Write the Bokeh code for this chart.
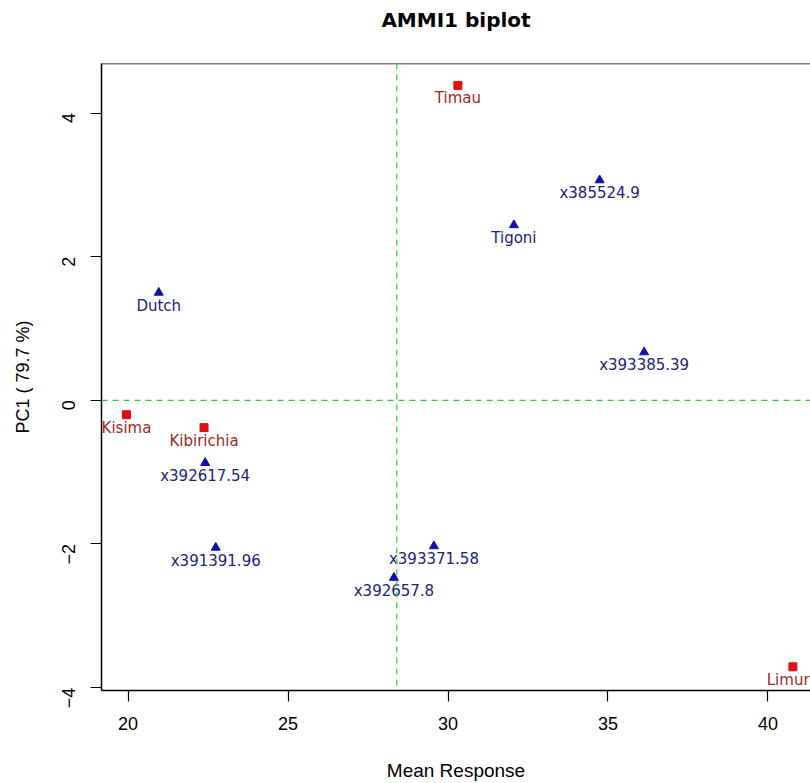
import math
from bokeh.plotting import figure
from bokeh.models import ColumnDataSource, FixedTicker, Span, Title
from bokeh.core.properties import value
from bokeh.embed import file_html
from bokeh.resources import INLINE

# Genotypes (blue triangles)
gen_names = ["Dutch", "Tigoni", "x385524.9", "x393385.39", "x392617.54",
             "x391391.96", "x393371.58", "x392657.8"]
gen_mean = [20.96, 32.06, 34.74, 36.13, 22.41, 22.74, 29.56, 28.31]
gen_pc1 = [1.50, 2.44, 3.065, 0.67, -0.87, -2.05, -2.03, -2.47]

# Environments (red squares)
env_names = ["Timau", "Kisima", "Kibirichia", "Limuru"]
env_mean = [30.31, 19.95, 22.375, 40.78]
env_pc1 = [4.385, -0.20, -0.38, -3.71]

grand_mean = 28.4
x_ticks = [20, 25, 30, 35, 40]
y_ticks = [-4, -2, 0, 2, 4]

FONT = "Liberation Sans"
LFONT = "DejaVu Sans"

p = figure(width=810, height=783, output_backend="svg", toolbar_location=None,
           x_range=(19.17, 41.33), y_range=(-4.04, 4.69),
           min_border_left=101, min_border_right=0, min_border_top=63,
           min_border_bottom=91)
# spacer between frame and title, then the title itself
p.add_layout(Title(text=" ", text_font_size="2px", standoff=23), "above")
p.add_layout(Title(text="AMMI1 biplot", align="center", text_font=LFONT,
                   text_font_size="20px", text_font_style="bold",
                   text_color="black", standoff=10, offset=3), "above")
p.grid.visible = False
p.outline_line_color = None
p.background_fill_color = "white"
p.border_fill_color = "white"

for ax in (p.xaxis[0], p.yaxis[0]):
    ax.axis_line_color = "black"
    ax.axis_line_width = 1.5
    ax.major_tick_line_color = "black"
    ax.major_tick_line_width = 1.2
    ax.major_tick_out = 11
    ax.major_tick_in = 0
    ax.minor_tick_line_color = None
    ax.major_label_text_font = FONT
    ax.major_label_text_font_size = "18px"
    ax.major_label_text_color = "black"
    ax.axis_label_text_font = FONT
    ax.axis_label_text_font_size = "18px"
    ax.axis_label_text_font_style = "normal"
    ax.axis_label_text_color = "black"

p.xaxis.ticker = FixedTicker(ticks=x_ticks)
p.yaxis.ticker = FixedTicker(ticks=y_ticks)
p.xaxis.axis_label = "Mean Response"
p.yaxis.axis_label = "PC1 ( 79.7 %)"
p.xaxis.axis_label_text_font_size = "19px"
p.yaxis.major_label_orientation = math.pi / 2
p.xaxis.major_label_standoff = 15
p.yaxis.major_label_standoff = 22
p.xaxis.axis_label_standoff = 27
p.yaxis.axis_label_standoff = 20

# top border line of the box
p.add_layout(Span(location=4.69, dimension="width", line_color="black",
                  line_width=1.5))

# reference lines
p.add_layout(Span(location=grand_mean, dimension="height", line_color="#2ecc2e",
                  line_width=1.2, line_dash="6 5"))
p.add_layout(Span(location=0, dimension="width", line_color="#2ecc2e",
                  line_width=1.2, line_dash="6 5"))

gsrc = ColumnDataSource(dict(x=gen_mean, y=gen_pc1, name=gen_names))
esrc = ColumnDataSource(dict(x=env_mean, y=env_pc1, name=env_names))

p.scatter("x", "y", source=gsrc, marker="triangle", size=9,
          fill_color="#1010a8", line_color="#1010a8")
p.text("x", "y", text="name", source=gsrc, text_font=value(LFONT),
       text_font_size="15px", text_color="#22227a", text_align="center",
       text_baseline="middle", y_offset=13)

p.scatter("x", "y", source=esrc, marker="square", size=8,
          fill_color="#dd1111", line_color="#dd1111")
p.text("x", "y", text="name", source=esrc, text_font=value(LFONT),
       text_font_size="15px", text_color="#a02828", text_align="center",
       text_baseline="middle", y_offset=13)

open("out.html", "w").write(file_html(p, INLINE))
